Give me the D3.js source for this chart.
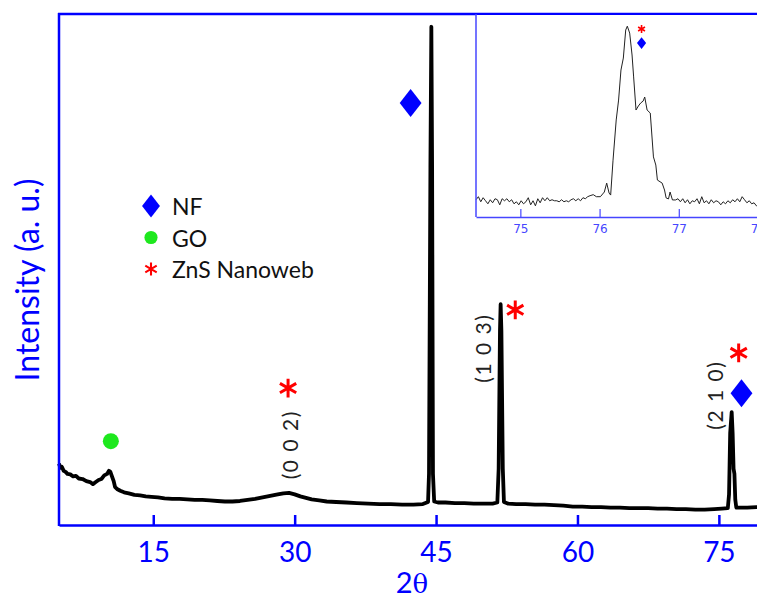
<!DOCTYPE html>
<meta charset="utf-8">
<style>
  body { margin: 0; background: #fff; }
  svg { display: block; }
  text { font-family: Lato, "Open Sans", sans-serif; }
</style>
<script src="https://d3js.org/d3.v7.min.js"></script>
<div id="chart"></div>
<script>
  // Main XRD pattern (2theta, intensity a.u.)
  var theta = [5.0, 5.15, 5.3, 5.5, 5.7, 5.9, 6.2, 6.5, 6.8, 7.1, 7.5, 7.9, 8.3, 8.6, 8.9, 9.2, 9.5, 9.8,
    10.1, 10.3, 10.45, 10.6, 10.8, 10.95, 11.2, 11.5, 11.9, 12.4, 13.0, 13.6, 14.2, 14.8, 15.5, 16.2,
    17.0, 17.8, 18.6, 19.4, 20.2, 21.0, 21.8, 22.6, 23.4, 24.2, 25.0, 25.8, 26.6, 27.4, 28.2, 28.8,
    29.4, 30.0, 30.6, 31.2, 31.8, 32.6, 33.4, 34.4, 35.5, 36.6, 37.8, 39.0, 40.2, 41.4, 42.6, 43.6,
    44.15, 44.25, 44.4, 44.5, 44.58, 44.67, 44.8, 45.2, 46.0, 47.0, 48.0, 49.0, 50.0, 51.0,
    51.5, 51.64, 51.78, 51.85, 51.93, 52.08, 52.2, 52.6, 53.5, 54.5, 55.5, 56.5, 57.5, 58.5, 59.5,
    60.5, 61.5, 62.5, 63.5, 64.5, 65.5, 66.5, 67.5, 68.5, 69.5, 70.5, 71.5, 72.5, 73.5, 74.5, 75.3,
    75.95, 76.08, 76.2, 76.36, 76.46, 76.56, 76.65, 76.74, 76.85, 77.2, 78.0, 79.0, 80.0];
  var counts = [120, 112, 114, 106, 104, 100, 99, 95, 96, 91, 90, 86, 84, 80, 84, 88, 90, 97,
    100, 106, 104, 96, 86, 74, 70, 67, 64, 62, 59, 58, 56, 55, 54, 52,
    51, 51, 50, 49, 49, 48, 47, 46, 46, 47, 49, 51, 54, 57, 60, 62,
    63, 60, 56, 53, 50, 48, 46, 45, 44, 43, 42, 41, 41, 40, 40, 41,
    45, 100, 700, 975, 700, 100, 46, 44, 44, 43, 43, 42, 42, 42,
    44, 110, 380, 432, 380, 110, 45, 42, 41, 41, 40, 40, 39, 38, 36,
    36, 35, 35, 34, 34, 33, 33, 33, 32, 32, 31, 31, 30, 30, 31, 32,
    33, 60, 180, 221, 180, 110, 100, 50, 34, 34, 34, 35, 35];

  // Inset: zoom on the (2 1 0) reflection
  var insetTheta = [74.44, 74.47, 74.5, 74.53, 74.56, 74.59, 74.62, 74.65, 74.68, 74.71, 74.74, 74.77,
    74.8, 74.83, 74.86, 74.89, 74.92, 74.95, 74.98, 75.01, 75.04, 75.07, 75.1, 75.13, 75.16, 75.19,
    75.22, 75.25, 75.28, 75.31, 75.34, 75.37, 75.4, 75.43, 75.46, 75.49, 75.52, 75.55, 75.58, 75.61,
    75.64, 75.67, 75.7, 75.73, 75.76, 75.79, 75.82, 75.85, 75.88, 75.92, 75.96, 76.01, 76.06, 76.09,
    76.12, 76.14, 76.17, 76.21, 76.24, 76.27, 76.3, 76.33, 76.35, 76.38, 76.41, 76.43, 76.46, 76.49,
    76.52, 76.55, 76.57, 76.6, 76.64, 76.68, 76.71, 76.73, 76.79, 76.82, 76.84, 76.87, 76.89, 76.92,
    76.96, 76.99, 77.02, 77.05, 77.08, 77.11, 77.14, 77.17, 77.2, 77.23, 77.26, 77.29, 77.32, 77.35,
    77.38, 77.41, 77.44, 77.47, 77.5, 77.53, 77.56, 77.59, 77.62, 77.65, 77.68, 77.71, 77.74, 77.77,
    77.8, 77.83, 77.86, 77.89, 77.92, 77.95, 77.98, 78.0];
  var insetCounts = [8.5, 10, 7.5, 9.5, 8, 6.5, 8.5, 7, 9, 8.5, 6, 9,
    8, 9, 7.5, 8.5, 6.5, 7.5, 6, 8, 6.5, 7.5, 9.5, 6, 8, 5.5,
    9, 7, 9.5, 8, 9.5, 8, 8.5, 8, 8, 7.5, 8.5, 7.5, 8, 7.5,
    8.5, 9, 8, 9, 8, 9.5, 9, 10, 10.5, 11, 10, 10, 12.3, 16.7,
    11.8, 10.8, 28, 47.8, 57.6, 72.4, 78.3, 92.1, 94, 90.6, 79.8, 69, 52.7, 54.7,
    56.2, 57.1, 59.1, 52.7, 51.2, 29.6, 25.6, 18.2, 16.7, 13.3, 9.4, 8.9, 12.3, 8.4,
    8.4, 9, 7.5, 9, 7, 8.5, 6.5, 8, 7.5, 9, 6.5, 10, 7, 8,
    6.5, 8.5, 7, 8, 7.5, 6, 7.5, 6.5, 8, 7, 8.5, 7.5, 9, 7.5,
    10, 8.5, 7, 8, 6.5, 7, 5.5, 5.5];

  var xTicks = [15, 30, 45, 60, 75];
  var insetTicks = [75, 76, 77, 78];

  // phase markers: [2theta, intensity, kind]
  var markers = [
    [42.3, 826, "NF"], [77.4, 258, "NF"],
    [10.5, 164, "GO"],
    [29.3, 268, "ZnS"], [53.4, 421, "ZnS"], [77.1, 337, "ZnS"]
  ];
  var planes = [[29.5, 157, "(0 0 2)"], [49.9, 346, "(1 0 3)"], [74.5, 254, "(2 1 0)"]];
  var insetMarkers = [[76.53, 92.6, "ZnS"], [76.53, 85.7, "NF"]];
  var legend = [["NF", "NF"], ["GO", "GO"], ["ZnS", "ZnS Nanoweb"]];

  var width = 757, height = 599;
  var svg = d3.select("#chart").append("svg")
    .attr("width", width).attr("height", height);

  var x = d3.scaleLinear().domain([5, 80]).range([59, 766]);
  var y = d3.scaleLinear().domain([0, 1000]).range([525, 14]);

  // diamond a bit wider than d3's own
  var wideDiamond = {
    draw: function(ctx, size) {
      var h = Math.sqrt(size) / 2, w = h * 0.78;
      ctx.moveTo(0, -h); ctx.lineTo(w, 0); ctx.lineTo(0, h); ctx.lineTo(-w, 0); ctx.closePath();
    }
  };

  function drawMarker(g, kind, px, py, scale) {
    if (kind === "NF") {
      g.append("path").attr("transform", "translate(" + px + "," + py + ")")
        .attr("d", d3.symbol(wideDiamond, 784 * scale * scale)()).attr("fill", "#0000ff");
    } else if (kind === "GO") {
      g.append("circle").attr("cx", px).attr("cy", py).attr("r", 8 * scale).attr("fill", "#1ee81e");
    } else {
      g.append("path").attr("transform", "translate(" + px + "," + py + ")")
        .attr("d", d3.symbol(d3.symbolAsterisk, 250 * scale * scale)())
        .attr("fill", "none").attr("stroke", "#ff0000").attr("stroke-width", Math.max(3 * scale, 1.6));
    }
  }

  // data line
  var line = d3.line().x(function(d) { return x(d[0]); }).y(function(d) { return y(d[1]); });
  svg.append("path")
    .datum(d3.zip(theta, counts))
    .attr("d", line)
    .attr("fill", "none").attr("stroke", "#000").attr("stroke-width", 3.8)
    .attr("stroke-linejoin", "round");

  // axes
  var xAxis = svg.append("g").attr("transform", "translate(0,525)")
    .call(d3.axisBottom(x).tickValues(xTicks).tickSizeInner(-10).tickSizeOuter(0).tickPadding(0));
  xAxis.select(".domain").attr("stroke", "#0000ff").attr("stroke-width", 2.5);
  xAxis.selectAll(".tick line").attr("stroke", "#0000ff").attr("stroke-width", 2.5);
  xAxis.selectAll(".tick text").attr("y", 37).attr("dy", null)
    .attr("fill", "#0000ff").style("font-size", "28px");

  svg.append("line").attr("x1", 59).attr("x2", 59).attr("y1", 13).attr("y2", 526)
    .attr("stroke", "#0000ff").attr("stroke-width", 2.5);
  svg.append("line").attr("x1", 58).attr("x2", width).attr("y1", 14).attr("y2", 14)
    .attr("stroke", "#0000ff").attr("stroke-width", 2.5);

  svg.append("text").attr("x", 412).attr("y", 593).attr("text-anchor", "middle")
    .attr("fill", "#0000ff").style("font-size", "29px")
    .text("2").append("tspan").style("font-family", "'DejaVu Serif', serif").style("font-size", "26px").text("θ");

  svg.append("text").attr("transform", "translate(39,280) rotate(-90)")
    .attr("text-anchor", "middle").attr("fill", "#0000ff").style("font-size", "32px")
    .text("Intensity (a. u.)");

  // marks and hkl labels
  var marks = svg.append("g");
  markers.forEach(function(m) { drawMarker(marks, m[2], x(m[0]), y(m[1]), 1); });
  planes.forEach(function(p) {
    marks.append("text")
      .attr("transform", "translate(" + x(p[0]) + "," + y(p[1]) + ") rotate(-90)")
      .attr("text-anchor", "middle").attr("dominant-baseline", "central")
      .attr("fill", "#222").style("font-size", "21px").style("letter-spacing", "1.5px")
      .text(p[2]);
  });

  // legend
  var leg = svg.append("g");
  legend.forEach(function(l, i) {
    var ly = 206 + i * 31.5;
    drawMarker(leg, l[0], 151, ly, l[0] === "ZnS" ? 0.7 : 0.82);
    leg.append("text").attr("x", 172).attr("y", ly).attr("dominant-baseline", "central")
      .attr("fill", "#111").style("font-size", "23px").text(l[1]);
  });

  // inset
  var ix = d3.scaleLinear().domain([74.44, 78]).range([476, 758]);
  var iy = d3.scaleLinear().domain([0, 100]).range([217, 14]);
  var inset = svg.append("g");
  inset.append("rect").attr("x", 476).attr("y", 15).attr("width", width - 476).attr("height", 202)
    .attr("fill", "#fff");
  var iline = d3.line().x(function(d) { return ix(d[0]); }).y(function(d) { return iy(d[1]); });
  inset.append("path").datum(d3.zip(insetTheta, insetCounts)).attr("d", iline)
    .attr("fill", "none").attr("stroke", "#222").attr("stroke-width", 1);
  var ia = inset.append("g").attr("transform", "translate(0,217)")
    .call(d3.axisBottom(ix).tickValues(insetTicks).tickFormat(d3.format("d"))
      .tickSizeInner(-8).tickSizeOuter(0).tickPadding(0));
  ia.select(".domain").attr("stroke", "#4646ff").attr("stroke-width", 1.5);
  ia.selectAll(".tick line").attr("stroke", "#4646ff").attr("stroke-width", 1.2);
  ia.selectAll(".tick text").attr("y", 16).attr("dy", null)
    .attr("fill", "#4646ff").style("font-size", "12px").style("font-family", "'DejaVu Sans', sans-serif");
  inset.append("line").attr("x1", 476).attr("x2", 476).attr("y1", 14).attr("y2", 217)
    .attr("stroke", "#4646ff").attr("stroke-width", 1.5);
  insetMarkers.forEach(function(m) { drawMarker(inset, m[2], ix(m[0]), iy(m[1]), 0.42); });
</script>
